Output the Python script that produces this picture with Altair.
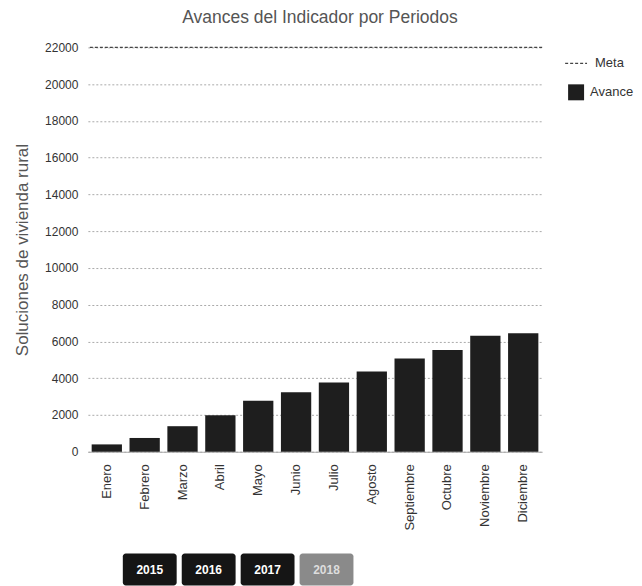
import altair as alt
import pandas as pd

meses = ["Enero", "Febrero", "Marzo", "Abril", "Mayo", "Junio", "Julio",
         "Agosto", "Septiembre", "Octubre", "Noviembre", "Diciembre"]
avance = [400, 750, 1390, 1980, 2770, 3240, 3770, 4360, 5080, 5530, 6310, 6450]
meta = [22000] * 12
y_ticks = list(range(0, 22001, 2000))
anios = ["2015", "2016", "2017", "2018"]
estado = ["normal", "normal", "normal", "activo"]

FONT = "Liberation Sans"
DARK = "#1e1e1e"

df = pd.DataFrame({"Mes": meses, "Avance": avance, "Meta": meta,
                   "serieA": ["Avance"] * 12, "serieM": ["Meta"] * 12})

x_enc = alt.X("Mes:N", sort=meses, title=None,
              scale=alt.Scale(paddingInner=0.2, paddingOuter=0.1),
              axis=alt.Axis(labelAngle=-90, labelFontSize=13, labelColor="#333",
                            labelPadding=12, labelFont=FONT, domainColor="#aaa",
                            ticks=False, grid=False))

y_axis = alt.Axis(values=y_ticks, format="d", title="Soluciones de vivienda rural",
                  titleFont=FONT, titleFontSize=17, titleFontWeight="normal",
                  titleColor="#555", titlePadding=13, labelOverlap=False,
                  labelFont=FONT, labelFontSize=12, labelColor="#333", labelPadding=10,
                  ticks=False, domain=False, gridColor="#aaa", gridDash=[2, 2])
y_scale = alt.Scale(domain=[0, 22000], nice=False)

bars = alt.Chart(df).mark_bar().encode(
    x=x_enc,
    y=alt.Y("Avance:Q", scale=y_scale, axis=y_axis),
    fill=alt.Fill("serieA:N", scale=alt.Scale(domain=["Avance"], range=[DARK]),
                  legend=alt.Legend(title=None, orient="none", legendX=480, legendY=36,
                                    symbolType="square", symbolSize=256, labelOffset=5,
                                    labelFont=FONT, labelFontSize=13, labelColor="#333")),
)

meta_rule = alt.Chart(df).mark_rule(strokeDash=[3, 2], strokeWidth=1.3).encode(
    y=alt.Y("mean(Meta):Q", scale=y_scale, axis=y_axis),
    stroke=alt.Stroke("serieM:N", scale=alt.Scale(domain=["Meta"], range=["#444"]),
                      legend=alt.Legend(title=None, orient="none", legendX=477, legendY=4,
                                        symbolStrokeWidth=1.3, symbolSize=480,
                                        symbolDash=[3, 2], labelOffset=7,
                                        labelFont=FONT, labelFontSize=13, labelColor="#333")),
)

main = alt.layer(bars, meta_rule).properties(
    width=455, height=405,
    title=alt.TitleParams("Avances del Indicador por Periodos", font=FONT, fontSize=17.5,
                          fontWeight="normal", color="#555", frame="group", anchor="middle",
                          dx=5, offset=15),
).resolve_legend(fill="independent", stroke="independent")

btn_df = pd.DataFrame({"Anio": anios, "Estado": estado})
bx = alt.X("Anio:N", axis=None,
           scale=alt.Scale(paddingInner=0.086, paddingOuter=0, range=[35, 266]))
btn_rect = alt.Chart(btn_df).mark_bar(cornerRadius=3).encode(
    x=bx,
    fill=alt.Fill("Estado:N", scale=alt.Scale(domain=["normal", "activo"],
                                              range=["#151515", "#8a8a8a"]), legend=None),
)
btn_text = alt.Chart(btn_df).mark_text(font=FONT, fontSize=12, fontWeight="bold").encode(
    x=bx, text="Anio:N",
    color=alt.Color("Estado:N", scale=alt.Scale(domain=["normal", "activo"],
                                                range=["#ffffff", "#dddddd"]), legend=None),
)
buttons = alt.layer(btn_rect, btn_text).properties(width=455, height=32)

chart = alt.vconcat(main, buttons, spacing=23).resolve_scale(
    fill="independent", color="independent", stroke="independent", x="independent"
).resolve_legend(fill="independent", stroke="independent", color="independent").configure_view(
    stroke=None
).properties(padding={"left": 5, "top": 0, "right": 0, "bottom": 0})

chart.save("out.html", embed_options={"renderer": "svg", "actions": False})
